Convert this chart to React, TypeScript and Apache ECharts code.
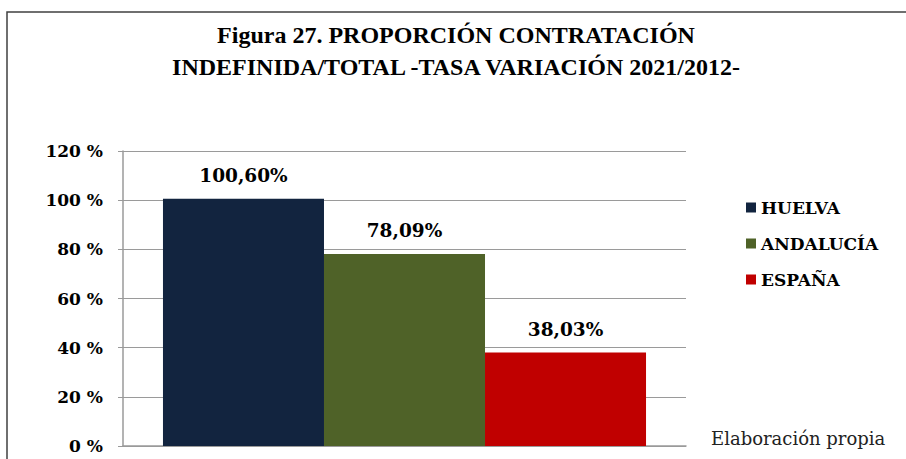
import React, { useEffect, useRef } from "react";
import * as echarts from "echarts";

const titleLines = ["Figura 27. PROPORCIÓN CONTRATACIÓN", "INDEFINIDA/TOTAL -TASA VARIACIÓN 2021/2012-"];
const seriesNames = ["HUELVA", "ANDALUCÍA", "ESPAÑA"];
const seriesValues = [100.6, 78.09, 38.03];
const seriesColors = ["#12243f", "#4f6228", "#c00000"];
const categories = [""];
const sourceNote = "Elaboración propia";

export default function App() {
  const ref = useRef<HTMLDivElement>(null);
  useEffect(() => {
    document.body.style.margin = "0";
    const chart = echarts.init(ref.current!, null, { renderer: "svg" });
    const serif = "'DejaVu Serif', serif";
    chart.setOption({
      animation: false,
      backgroundColor: "#ffffff",
      title: {
        text: titleLines.join("\n"),
        left: 451,
        textAlign: "center",
        top: 14,
        textStyle: {
          fontFamily: "'Liberation Serif', serif",
          fontWeight: "bold",
          fontSize: 24,
          lineHeight: 32,
          color: "#000",
        },
      },
      grid: { left: 123, right: 220, top: 151, bottom: 13, containLabel: false },
      legend: {
        orient: "vertical",
        left: 741,
        top: 194,
        itemWidth: 10,
        itemHeight: 10,
        itemGap: 19,
        icon: "rect",
        textStyle: { fontFamily: serif, fontWeight: "bold", fontSize: 17, color: "#000" },
        data: seriesNames,
      },
      xAxis: {
        type: "category",
        data: categories,
        axisTick: { show: false },
        axisLabel: { show: false },
        axisLine: { lineStyle: { color: "#9a9a9a", width: 1.5 } },
      },
      yAxis: {
        type: "value",
        min: 0,
        max: 120,
        interval: 20,
        axisLine: { show: true, lineStyle: { color: "#9a9a9a", width: 1.5 } },
        axisTick: { show: true, length: 5, lineStyle: { color: "#9a9a9a" } },
        splitLine: { lineStyle: { color: "#9a9a9a", width: 1.2 } },
        axisLabel: {
          formatter: "{value} %",
          margin: 20,
          fontFamily: serif,
          fontWeight: "bold",
          fontSize: 17,
          color: "#000",
        },
      },
      series: seriesNames.map((name, i) => ({
        name,
        type: "bar",
        data: [seriesValues[i]],
        barGap: "0%",
        barCategoryGap: "14.2%",
        itemStyle: { color: seriesColors[i] },
        label: {
          show: true,
          position: "top",
          distance: 14,
          formatter: (p: any) => p.value.toFixed(2).replace(".", ",") + "%",
          fontFamily: serif,
          fontWeight: "bold",
          fontSize: 18.5,
          color: "#000",
        },
      })),
      graphic: [
        {
          type: "rect",
          shape: { x: 7, y: 12, width: 920, height: 480 },
          style: { fill: "none", stroke: "#404040", lineWidth: 1.5 },
          silent: true,
        },
        {
          type: "text",
          left: 711,
          top: 429,
          style: {
            text: sourceNote,
            fontFamily: serif,
            fontSize: 18,
            fill: "#222",
          },
        },
      ],
    });
    return () => chart.dispose();
  }, []);
  return <div ref={ref} style={{ width: 906, height: 459 }} />;
}
